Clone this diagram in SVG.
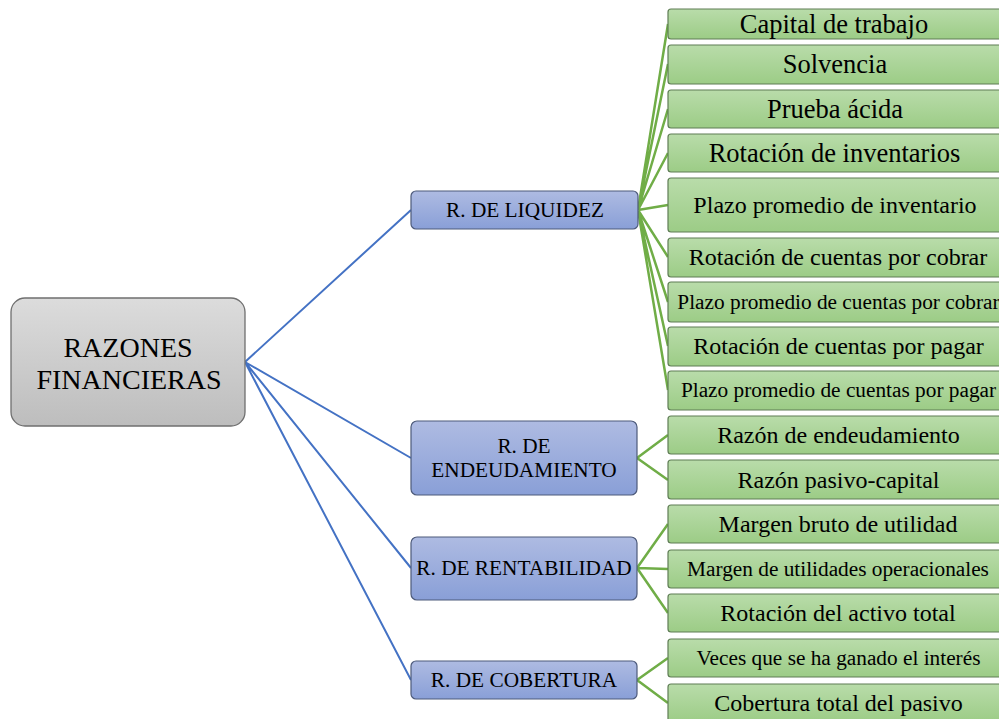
<svg xmlns="http://www.w3.org/2000/svg" width="999" height="719" viewBox="0 0 999 719">
<style>
text{font-family:'Liberation Serif','DejaVu Serif',serif;fill:#000;text-anchor:middle;dominant-baseline:central}
.g rect{fill:url(#gg);stroke:#5f7d55;stroke-width:1.2}
.b rect{fill:url(#bg);stroke:#4d5a7a;stroke-width:1.2}
.b text{font-size:21.3px}
.l{font-size:26.5px}
.m{font-size:24px}
.s{font-size:21.3px}
.bl{stroke:#4472c4;stroke-width:2;fill:none}
.gl{stroke:#70ad47;stroke-width:2.5;fill:none}
</style>
<defs>
<linearGradient id="gg" x1="0" y1="0" x2="0" y2="1"><stop offset="0" stop-color="#b9dcaa"/><stop offset="1" stop-color="#9ccc86"/></linearGradient>
<linearGradient id="bg" x1="0" y1="0" x2="0" y2="1"><stop offset="0" stop-color="#aebbe2"/><stop offset="1" stop-color="#899fd7"/></linearGradient>
<linearGradient id="rg" x1="0" y1="0" x2="0" y2="1"><stop offset="0" stop-color="#dcdcdc"/><stop offset="1" stop-color="#bdbdbd"/></linearGradient>
</defs>
<g id="connectors">
<path class="bl" d="M245 362L411 210M245 362L411 458M245 362L411 568M245 362L411 680"/>
<path class="gl" d="M638 210L668 24M638 210L668 64M638 210L668 109M638 210L668 153M638 210L668 205M638 210L668 257M638 210L668 302M638 210L668 346M638 210L668 390"/>
<path class="gl" d="M637 458L668 435M637 458L668 480"/>
<path class="gl" d="M637 568L668 524M637 568L668 569M637 568L668 613"/>
<path class="gl" d="M637 680L668 658M637 680L668 703"/>
</g>
<g id="root"><rect x="11" y="298" width="234" height="128" rx="14" fill="url(#rg)" stroke="#6f6f6f" stroke-width="1.3"/><text font-size="28"><tspan x="128" y="347">RAZONES</tspan><tspan x="129" y="378.5">FINANCIERAS</tspan></text></g>
<g id="liquidez" class="b"><rect x="411" y="191" width="227" height="38" rx="5"/><text x="525" y="210">R. DE LIQUIDEZ</text></g>
<g id="endeudamiento" class="b"><rect x="411" y="421" width="226" height="74" rx="6"/><text><tspan x="524" y="446">R. DE</tspan><tspan x="524" y="470">ENDEUDAMIENTO</tspan></text></g>
<g id="rentabilidad" class="b"><rect x="411" y="537" width="226" height="63" rx="6"/><text x="524" y="568">R. DE RENTABILIDAD</text></g>
<g id="cobertura" class="b"><rect x="411" y="661" width="226" height="38" rx="5"/><text x="524" y="680">R. DE COBERTURA</text></g>
<g id="capital" class="g"><rect x="668" y="9" width="340" height="30" rx="3"/><text class="l" x="834" y="24">Capital de trabajo</text></g>
<g id="solvencia" class="g"><rect x="668" y="45" width="340" height="39" rx="3"/><text class="l" x="835" y="64">Solvencia</text></g>
<g id="prueba" class="g"><rect x="668" y="90" width="340" height="38" rx="3"/><text class="l" x="835" y="109">Prueba ácida</text></g>
<g id="rotinv" class="g"><rect x="668" y="134" width="340" height="38" rx="3"/><text class="l" x="834.5" y="153">Rotación de inventarios</text></g>
<g id="plazoinv" class="g"><rect x="668" y="178" width="340" height="54" rx="3"/><text class="m" x="835" y="205">Plazo promedio de inventario</text></g>
<g id="rotcob" class="g"><rect x="668" y="238" width="340" height="39" rx="3"/><text class="m" x="838" y="257">Rotación de cuentas por cobrar</text></g>
<g id="plazocob" class="g"><rect x="668" y="282" width="340" height="40" rx="3"/><text class="s" x="838.5" y="302">Plazo promedio de cuentas por cobrar</text></g>
<g id="rotpag" class="g"><rect x="668" y="327" width="340" height="39" rx="3"/><text class="m" x="838.5" y="346">Rotación de cuentas por pagar</text></g>
<g id="plazopag" class="g"><rect x="668" y="371" width="340" height="39" rx="3"/><text class="s" x="838.5" y="390">Plazo promedio de cuentas por pagar</text></g>
<g id="endeud" class="g"><rect x="668" y="416" width="340" height="38" rx="3"/><text class="m" x="838.5" y="435">Razón de endeudamiento</text></g>
<g id="pasivo" class="g"><rect x="668" y="460" width="340" height="39" rx="3"/><text class="m" x="838.5" y="480">Razón pasivo-capital</text></g>
<g id="bruto" class="g"><rect x="668" y="505" width="340" height="38" rx="3"/><text class="m" x="838" y="524">Margen bruto de utilidad</text></g>
<g id="operac" class="g"><rect x="668" y="550" width="340" height="38" rx="3"/><text class="s" x="838" y="569">Margen de utilidades operacionales</text></g>
<g id="activo" class="g"><rect x="668" y="594" width="340" height="38" rx="3"/><text class="m" x="838" y="613">Rotación del activo total</text></g>
<g id="veces" class="g"><rect x="668" y="639" width="340" height="38" rx="3"/><text class="s" x="838.5" y="658">Veces que se ha ganado el interés</text></g>
<g id="pasivototal" class="g"><rect x="668" y="684" width="340" height="38" rx="3"/><text class="m" x="838.5" y="703">Cobertura total del pasivo</text></g>
</svg>
